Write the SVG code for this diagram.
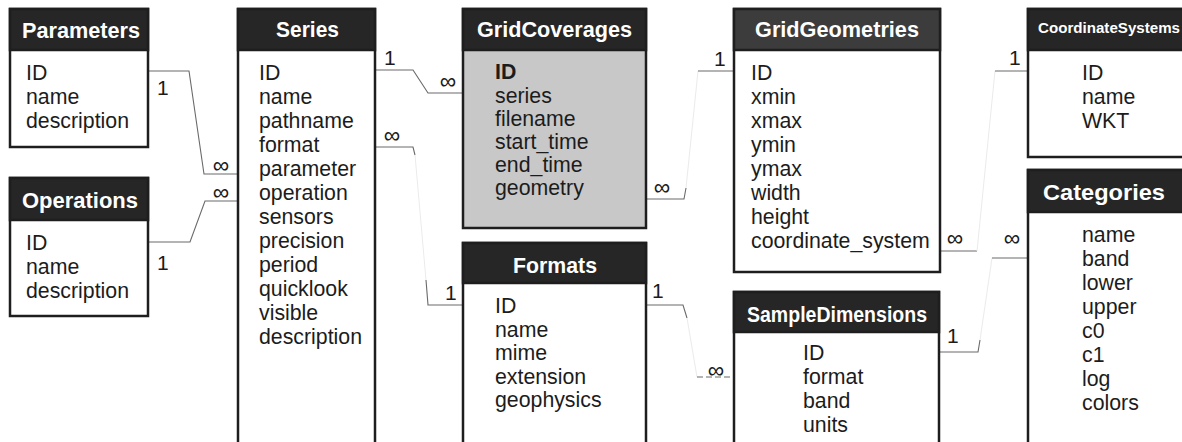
<svg xmlns="http://www.w3.org/2000/svg" width="1182" height="442" viewBox="0 0 1182 442">
<style>
.box{fill:#fff;stroke:#1e1e1e;stroke-width:2.5}
.hdr{fill:#262626;stroke:#1e1e1e;stroke-width:2.5}
.title{font-family:"Liberation Sans",Arial,sans-serif;font-weight:bold;font-size:21.5px;fill:#fff}
.f{font-family:"Liberation Sans",Arial,sans-serif;font-size:21.3px;fill:#1c1c1c}
.conn{fill:none;stroke:#6a6a6a;stroke-width:1.1}
.faint{fill:none;stroke:#ebebeb;stroke-width:1}
.lbl{font-family:"Liberation Sans",Arial,sans-serif;font-size:21px;fill:#1c1c1c}
.inf{font-family:"Liberation Sans","DejaVu Sans",sans-serif;font-size:23px;fill:#1c1c1c;text-anchor:middle}
</style>
<rect width="1182" height="442" fill="#fff"/>

<g id="connectors">
  <path class="conn" d="M148,71 H189 L204,174 H238"/>
  <path class="conn" d="M148,242 H190 L205,201 H238"/>
  <path class="conn" d="M375,70 H413 L428,93 H463"/>
  <path class="conn" d="M375,147 H413 L415,155"/>
  <path class="faint" d="M415,155 L426,280"/>
  <path class="conn" d="M426,280 L428,305 H463"/>
  <path class="conn" d="M646,199 H684 L686,188"/>
  <path class="faint" d="M686,188 L698,71"/>
  <path class="conn" d="M698,71 H734"/>
  <path class="conn" d="M646,305 H683 L687,318"/>
  <path class="faint" d="M687,318 L697,377"/>
  <path class="conn" d="M697,377 H734" stroke-dasharray="6 3"/>
  <path class="conn" d="M940,251 H977"/>
  <path class="faint" d="M977,251 L995,71"/>
  <path class="conn" d="M995,71 H1028"/>
  <path class="conn" d="M939,352 H978 L980,340"/>
  <path class="faint" d="M980,340 L992,258"/>
  <path class="conn" d="M992,258 H1028"/>
  <text class="lbl" x="157" y="95">1</text>
  <text class="lbl" x="157" y="270">1</text>
  <text class="inf" x="221" y="173">∞</text>
  <text class="inf" x="221" y="200">∞</text>
  <text class="lbl" x="384" y="65">1</text>
  <text class="inf" x="448" y="89">∞</text>
  <text class="inf" x="392" y="143">∞</text>
  <text class="lbl" x="445" y="300">1</text>
  <text class="inf" x="662" y="195">∞</text>
  <text class="lbl" x="714" y="66">1</text>
  <text class="lbl" x="652" y="298">1</text>
  <text class="inf" x="716" y="378">∞</text>
  <text class="inf" x="955" y="246">∞</text>
  <text class="lbl" x="1009" y="65">1</text>
  <text class="lbl" x="947" y="343">1</text>
  <text class="inf" x="1012" y="246">∞</text>
</g>

<g id="Parameters">
  <rect class="box" x="10" y="9" width="138" height="138"/>
  <rect class="hdr" x="10" y="9" width="138" height="41"/>
  <text class="title" x="22" y="38" textLength="118" lengthAdjust="spacingAndGlyphs">Parameters</text>
  <text class="f" x="26" y="80">ID</text>
  <text class="f" x="26" y="104">name</text>
  <text class="f" x="26" y="128">description</text>
</g>

<g id="Operations">
  <rect class="box" x="10" y="178" width="138" height="138"/>
  <rect class="hdr" x="10" y="178" width="138" height="42"/>
  <text class="title" x="22" y="208" textLength="116" lengthAdjust="spacingAndGlyphs">Operations</text>
  <text class="f" x="26" y="250">ID</text>
  <text class="f" x="26" y="274">name</text>
  <text class="f" x="26" y="298">description</text>
</g>

<g id="Series">
  <rect class="box" x="238" y="9" width="137" height="450"/>
  <rect class="hdr" x="238" y="9" width="137" height="41"/>
  <text class="title" x="276" y="37" textLength="63" lengthAdjust="spacingAndGlyphs">Series</text>
  <text class="f" x="259" y="80">ID</text>
  <text class="f" x="259" y="104">name</text>
  <text class="f" x="259" y="128">pathname</text>
  <text class="f" x="259" y="152">format</text>
  <text class="f" x="259" y="176">parameter</text>
  <text class="f" x="259" y="200">operation</text>
  <text class="f" x="259" y="224">sensors</text>
  <text class="f" x="259" y="248">precision</text>
  <text class="f" x="259" y="272">period</text>
  <text class="f" x="259" y="296">quicklook</text>
  <text class="f" x="259" y="320">visible</text>
  <text class="f" x="259" y="344">description</text>
</g>

<g id="GridCoverages">
  <rect class="box" x="463" y="9" width="183" height="219" style="fill:#c8c8c8"/>
  <rect class="hdr" x="463" y="9" width="183" height="41"/>
  <text class="title" x="477" y="37" textLength="155" lengthAdjust="spacingAndGlyphs">GridCoverages</text>
  <text class="f" x="495" y="79" font-weight="bold">ID</text>
  <text class="f" x="495" y="102.5">series</text>
  <text class="f" x="495" y="126">filename</text>
  <text class="f" x="495" y="149">start_time</text>
  <text class="f" x="495" y="172">end_time</text>
  <text class="f" x="495" y="195">geometry</text>
</g>

<g id="Formats">
  <rect class="box" x="463" y="243" width="183" height="220"/>
  <rect class="hdr" x="463" y="243" width="183" height="40"/>
  <text class="title" x="513" y="273" textLength="84" lengthAdjust="spacingAndGlyphs">Formats</text>
  <text class="f" x="495" y="313">ID</text>
  <text class="f" x="495" y="336.5">name</text>
  <text class="f" x="495" y="360">mime</text>
  <text class="f" x="495" y="383.5">extension</text>
  <text class="f" x="495" y="407">geophysics</text>
</g>

<g id="GridGeometries">
  <rect class="box" x="734" y="9" width="206" height="263"/>
  <rect class="hdr" x="734" y="9" width="206" height="41" style="fill:#3c3c3c"/>
  <text class="title" x="755" y="37" textLength="164" lengthAdjust="spacingAndGlyphs">GridGeometries</text>
  <text class="f" x="751" y="80">ID</text>
  <text class="f" x="751" y="104">xmin</text>
  <text class="f" x="751" y="128">xmax</text>
  <text class="f" x="751" y="152">ymin</text>
  <text class="f" x="751" y="176">ymax</text>
  <text class="f" x="751" y="200">width</text>
  <text class="f" x="751" y="224">height</text>
  <text class="f" x="751" y="248">coordinate_system</text>
</g>

<g id="SampleDimensions">
  <rect class="box" x="734" y="292" width="205" height="170"/>
  <rect class="hdr" x="734" y="292" width="205" height="40"/>
  <text class="title" x="747" y="322" textLength="180" lengthAdjust="spacingAndGlyphs">SampleDimensions</text>
  <text class="f" x="803" y="360">ID</text>
  <text class="f" x="803" y="384">format</text>
  <text class="f" x="803" y="408">band</text>
  <text class="f" x="803" y="432">units</text>
</g>

<g id="CoordinateSystems">
  <rect class="box" x="1028" y="9" width="170" height="148"/>
  <rect class="hdr" x="1028" y="9" width="170" height="41"/>
  <text class="title" x="1038" y="33" style="font-size:15px" textLength="142" lengthAdjust="spacingAndGlyphs">CoordinateSystems</text>
  <text class="f" x="1082" y="80">ID</text>
  <text class="f" x="1082" y="104">name</text>
  <text class="f" x="1082" y="128">WKT</text>
</g>

<g id="Categories">
  <rect class="box" x="1028" y="170" width="170" height="290"/>
  <rect class="hdr" x="1028" y="170" width="170" height="42"/>
  <text class="title" x="1043" y="200" textLength="122" lengthAdjust="spacingAndGlyphs">Categories</text>
  <text class="f" x="1082" y="242">name</text>
  <text class="f" x="1082" y="266">band</text>
  <text class="f" x="1082" y="290">lower</text>
  <text class="f" x="1082" y="314">upper</text>
  <text class="f" x="1082" y="338">c0</text>
  <text class="f" x="1082" y="362">c1</text>
  <text class="f" x="1082" y="386">log</text>
  <text class="f" x="1082" y="410">colors</text>
</g>
</svg>
